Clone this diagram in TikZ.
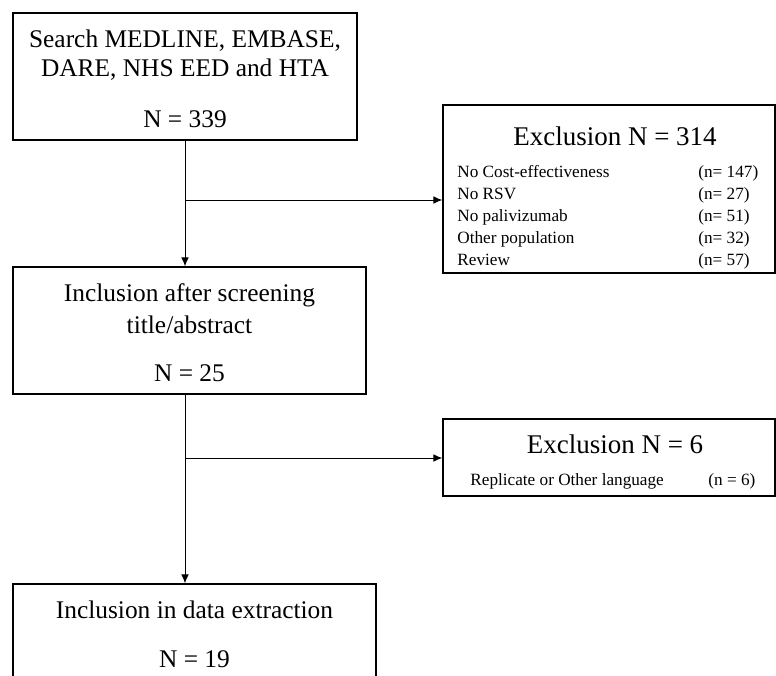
\documentclass[tikz,border=0pt]{standalone}
\usepackage{fontspec}
\setmainfont{Liberation Serif}
\usetikzlibrary{calc,arrows.meta}

\begin{document}
\begin{tikzpicture}[x=0.5pt,y=-0.5pt,
    box/.style={draw,line width=0.6pt,inner sep=0pt},
    big/.style={font=\fontsize{12.7}{15}\selectfont,anchor=base,inner sep=0pt},
    head/.style={font=\fontsize{13.5}{16}\selectfont,anchor=base,inner sep=0pt},
    small/.style={font=\fontsize{8.6}{10}\selectfont,anchor=base west,inner sep=0pt},
    flow/.style={line width=0.5pt,-{Latex[length=4.5pt,width=3.8pt]}}]
    \useasboundingbox (0,0) rectangle (776,675);
    \clip (0,0) rectangle (776,675);

    % boxes
    \node[box,minimum width=172pt,minimum height=63.5pt] (search) at (185,76.5) {};
    \node[box,minimum width=166pt,minimum height=84pt] (excl1) at (609,189) {};
    \node[box,minimum width=176.5pt,minimum height=63.5pt] (screen) at (189.5,330.5) {};
    \node[box,minimum width=166pt,minimum height=38.5pt] (excl2) at (609,457.5) {};
    \node[box,minimum width=181.5pt,minimum height=61pt] (extract) at (194.5,645) {};

    \coordinate (split1) at (185,200);
    \coordinate (split2) at (185,458);

    \draw [flow] (search.south) -- (search.south |- screen.north);
    \draw [flow] (split1) -- (split1 -| excl1.west);
    \draw [flow] (search.south |- screen.south) -- (search.south |- extract.north);
    \draw [flow] (split2) -- (split2 -| excl2.west);

    % texts
    \node[big] (search1) at (185,47) {Search MEDLINE, EMBASE,};
    \node[big] (search2) at (185,76) {DARE, NHS EED and HTA};
    \node[big] (searchN) at (185,127) {N = 339};

    \node[head] (excl1head) at (615,145) {Exclusion N = 314};
    \node[small] (r1) at (457,177) {No Cost-effectiveness};
    \node[small] (r2) at (457,199) {No RSV};
    \node[small] (r3) at (457,221) {No palivizumab};
    \node[small] (r4) at (457,243) {Other population};
    \node[small] (r5) at (457,265) {Review};
    \node[small] (n1) at (698,177) {(n= 147)};
    \node[small] (n2) at (698,199) {(n= 27)};
    \node[small] (n3) at (698,221) {(n= 51)};
    \node[small] (n4) at (698,243) {(n= 32)};
    \node[small] (n5) at (698,265) {(n= 57)};

    \node[big] (screen1) at (189.5,301) {Inclusion after screening};
    \node[big] (screen2) at (189.5,333) {title/abstract};
    \node[big] (screenN) at (189.5,381) {N = 25};

    \node[head] (excl2head) at (615,453) {Exclusion N = 6};
    \node[small] (r6) at (470,485) {Replicate or Other language};
    \node[small] (n6) at (708,485) {(n = 6)};

    \node[big] (extract1) at (194.5,618) {Inclusion in data extraction};
    \node[big] (extractN) at (194.5,667) {N = 19};
\end{tikzpicture}
\end{document}
